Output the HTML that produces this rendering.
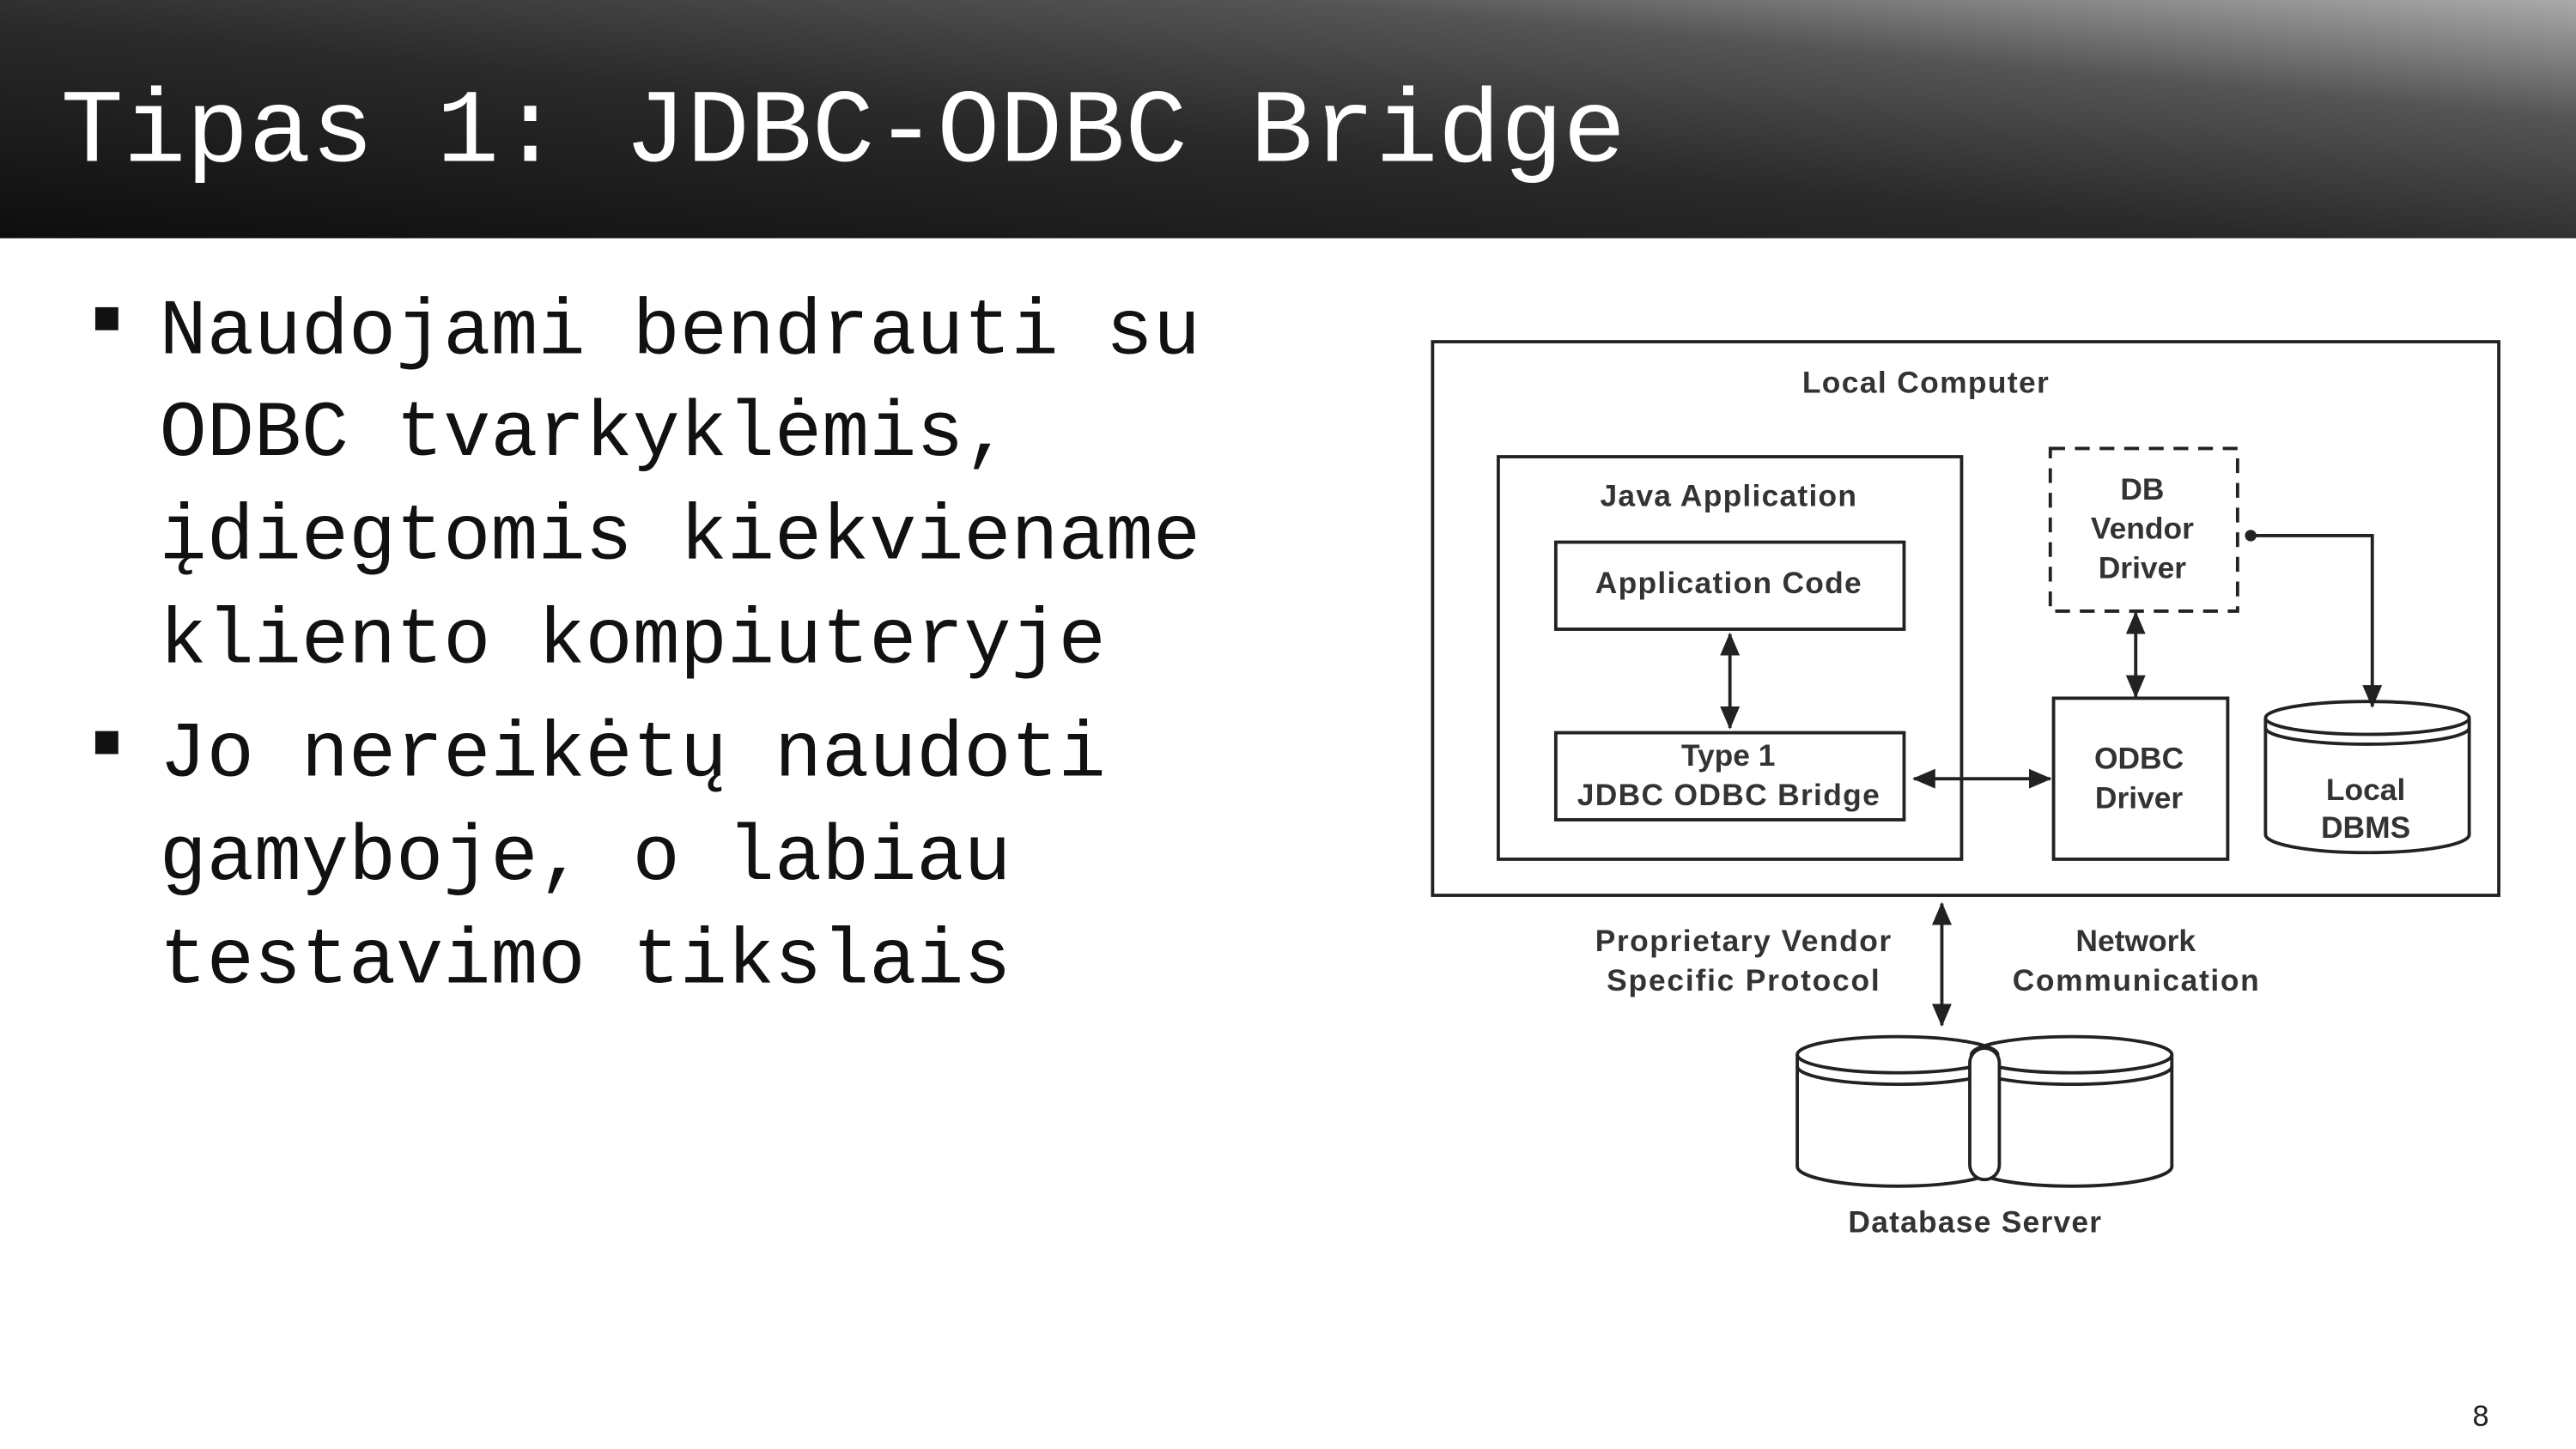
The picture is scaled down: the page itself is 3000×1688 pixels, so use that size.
<!DOCTYPE html>
<html><head><meta charset="utf-8"><style>
html,body{margin:0;padding:0;background:#fff;}
svg{display:block;}
</style></head><body>
<svg width="3000" height="1688" viewBox="0 0 1568 882" preserveAspectRatio="none" xmlns="http://www.w3.org/2000/svg">
<defs>
<linearGradient id="hg" x1="0" y1="1" x2="1" y2="0" gradientUnits="objectBoundingBox">
<stop offset="0" stop-color="#0e0e0e"/>
<stop offset="0.45" stop-color="#2a2a2a"/>
<stop offset="0.75" stop-color="#555"/>
<stop offset="1" stop-color="#aaa"/>
</linearGradient>
<marker id="ah" viewBox="0 0 14 12" refX="13" refY="6" markerWidth="14" markerHeight="12" orient="auto-start-reverse" markerUnits="userSpaceOnUse"><path d="M0,0 L14,6 L0,12 z" fill="#222"/></marker>
</defs>
<rect x="0" y="0" width="1568" height="145" fill="url(#hg)"/>
<text x="37" y="98" font-family="Liberation Mono, monospace" font-size="63.5" fill="#fff">Tipas 1: JDBC-ODBC Bridge</text>

<g font-family="Liberation Mono, monospace" font-size="48" fill="#111">
<rect x="58" y="187" width="14" height="14" fill="#111"/>
<text x="97" y="215">Naudojami bendrauti su</text>
<text x="97" y="277">ODBC tvarkyklėmis,</text>
<text x="97" y="340">įdiegtomis kiekviename</text>
<text x="97" y="403">kliento kompiuteryje</text>
<rect x="58" y="445" width="14" height="14" fill="#111"/>
<text x="97" y="472">Jo nereikėtų naudoti</text>
<text x="97" y="535">gamyboje, o labiau</text>
<text x="97" y="598">testavimo tikslais</text>
</g>
<text x="1510" y="868" font-family="Liberation Sans, sans-serif" font-size="18" fill="#222" text-anchor="middle">8</text>

<g stroke="#222" stroke-width="2" fill="none">
<rect x="872" y="208" width="649" height="337"/>
<rect x="912" y="278" width="282" height="245"/>
<rect x="947" y="330" width="212" height="53"/>
<rect x="947" y="446" width="212" height="53"/>
<rect x="1250" y="425" width="106" height="98"/>
<rect x="1248" y="273" width="114" height="99" stroke-dasharray="9,6"/>
<line x1="1053" y1="386" x2="1053" y2="443" marker-start="url(#ah)" marker-end="url(#ah)"/>
<line x1="1165" y1="474" x2="1248" y2="474" marker-start="url(#ah)" marker-end="url(#ah)"/>
<line x1="1300" y1="373" x2="1300" y2="424" marker-start="url(#ah)" marker-end="url(#ah)"/>
<polyline points="1370,326 1444,326 1444,430" marker-end="url(#ah)"/>
<line x1="1182" y1="550" x2="1182" y2="624" marker-start="url(#ah)" marker-end="url(#ah)"/>
<path d="M1379,437 L1379,508 A62,11 0 0 0 1503,508 L1503,437"/>
<ellipse cx="1441" cy="437" rx="62" ry="10"/>
<path d="M1379,443 A62,10 0 0 0 1503,443"/>
<path d="M1094,642 L1094,710 A61,12 0 0 0 1216,710 L1216,642"/>
<ellipse cx="1155" cy="642" rx="61" ry="11"/>
<path d="M1094,649 A61,11 0 0 0 1216,649"/>
<path d="M1200,642 L1200,710 A61,12 0 0 0 1322,710 L1322,642"/>
<ellipse cx="1261" cy="642" rx="61" ry="11"/>
<path d="M1200,649 A61,11 0 0 0 1322,649"/>
<rect x="1199" y="638" width="18" height="80" rx="9" fill="#fff"/>
</g>
<circle cx="1370" cy="326" r="3.5" fill="#222"/>
<g font-family="Liberation Sans, Arial, sans-serif" font-weight="bold" font-size="18.5" fill="#333" text-anchor="middle">
<text x="1172" y="239" textLength="150">Local Computer</text>
<text x="1052" y="308" textLength="156">Java Application</text>
<text x="1052" y="361" textLength="162">Application Code</text>
<text x="1052" y="466">Type 1</text>
<text x="1052" y="490" textLength="184">JDBC ODBC Bridge</text>
<text x="1302" y="468">ODBC</text>
<text x="1302" y="492">Driver</text>
<text x="1304" y="304">DB</text>
<text x="1304" y="328">Vendor</text>
<text x="1304" y="352">Driver</text>
<text x="1440" y="487">Local</text>
<text x="1440" y="510">DBMS</text>
<text x="1061" y="579" textLength="180">Proprietary Vendor</text>
<text x="1061" y="603" textLength="166">Specific  Protocol</text>
<text x="1300" y="579">Network</text>
<text x="1300" y="603" textLength="150">Communication</text>
<text x="1202" y="750" textLength="154">Database Server</text>
</g>
</svg>
</body></html>
